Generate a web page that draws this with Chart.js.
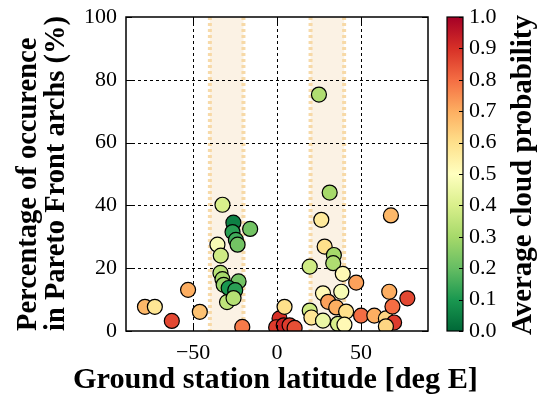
<!DOCTYPE html>
<html><head><meta charset="utf-8">
<script src="https://cdn.jsdelivr.net/npm/chart.js@4/dist/chart.umd.min.js"></script>
<style>html,body{margin:0;padding:0;background:#fff;}</style>
</head><body>
<canvas id="c" width="537" height="397" style="width:537px;height:397px;display:block"></canvas>
<script>
// ---- data ----
const latitudes = [
  -78.7, -72.8, -62.7, -53.0, -46.0,
  -32.5, -26.0, -16.0, -26.5, -24.5, -23.5, -35.5, -33.5, -33.7, -32.5, -22.9, -31.8, -28.8, -24.9, -29.8, -25.9, -20.7,
  1.5, -0.5, 4.0, 7.5, 10.5, 4.5,
  25.0, 31.4, 26.4, 67.9, 28.4, 33.9, 33.5, 19.5, 39.2, 47.2, 66.9, 77.7, 27.4, 38.3, 30.5, 35.3, 41.2, 19.5, 20.5, 27.4, 36.3, 40.2, 50.1, 58.0, 64.9, 68.8, 69.8, 64.9
];
const percentages = [
  7.7, 7.7, 3.2, 13.1, 6.1,
  40.2, 34.5, 32.5, 31.5, 29.0, 27.5, 27.5, 24.0, 18.5, 16.5, 15.8, 14.7, 13.7, 13.0, 9.2, 10.5, 1.3,
  4.0, 1.2, 1.8, 1.8, 1.0, 7.7,
  75.3, 44.1, 35.4, 36.8, 26.9, 24.2, 21.6, 20.5, 18.2, 15.4, 12.5, 10.4, 12.0, 12.5, 9.3, 7.5, 6.2, 6.5, 4.3, 3.3, 2.3, 2.0, 4.9, 4.9, 4.0, 7.8, 2.7, 1.5
];
const cloudProb = [
  0.68, 0.58, 0.86, 0.70, 0.66,
  0.40, 0.05, 0.22, 0.12, 0.15, 0.22, 0.48, 0.38, 0.34, 0.30, 0.22, 0.28, 0.10, 0.12, 0.35, 0.33, 0.78,
  0.90, 0.88, 0.92, 0.88, 0.85, 0.60,
  0.32, 0.30, 0.57, 0.68, 0.60, 0.30, 0.32, 0.38, 0.52, 0.72, 0.70, 0.86, 0.52, 0.48, 0.72, 0.70, 0.60, 0.38, 0.58, 0.45, 0.40, 0.52, 0.80, 0.70, 0.62, 0.80, 0.88, 0.62
];
const xTicks = [-50, 0, 50];
const yTicks = [0, 20, 40, 60, 80, 100];
const cbTicks = [0, 0.1, 0.2, 0.3, 0.4, 0.5, 0.6, 0.7, 0.8, 0.9, 1.0];
const bands = [[-40, -20], [20, 40]];
const xTitle = 'Ground station latitude [deg E]';
const yTitle = ['Percentage of occurence', 'in Pareto Front archs (%)'];
const cbTitle = 'Average cloud probability';

// RdYlGn reversed colour map
const cmapStops = ['#006837','#1a9850','#66bd63','#a6d96a','#d9ef8b','#ffffbf','#fee08b','#fdae61','#f46d43','#d73027','#a50026'];
function hex2rgb(h){return [parseInt(h.slice(1,3),16),parseInt(h.slice(3,5),16),parseInt(h.slice(5,7),16)];}
function cmap(v){
  v = Math.max(0, Math.min(1, v));
  const p = v * (cmapStops.length - 1);
  const i = Math.min(Math.floor(p), cmapStops.length - 2);
  const t = p - i;
  const a = hex2rgb(cmapStops[i]), b = hex2rgb(cmapStops[i+1]);
  const c = a.map((x, k) => Math.round(x + (b[k] - x) * t));
  return `rgb(${c[0]},${c[1]},${c[2]})`;
}

const points = latitudes.map((x, i) => ({x: x, y: percentages[i]}));
const SERIF = "'Liberation Serif', serif";
const TICKFONT = {family: SERIF, size: 22};

function fitFont(ctx, text, target) {
  ctx.font = "bold 20px " + SERIF;
  const w = ctx.measureText(text).width;
  const size = 20 * target / w;
  return "bold " + size.toFixed(2) + "px " + SERIF;
}

const decorPlugin = {
  id: 'decor',
  beforeDraw(chart) {
    const {ctx, chartArea: ca, scales: {x}} = chart;
    ctx.save();
    bands.forEach(([a, b]) => {
      const xa = x.getPixelForValue(a), xb = x.getPixelForValue(b);
      ctx.fillStyle = 'rgba(246,226,196,0.45)';
      ctx.fillRect(xa, ca.top, xb - xa, ca.bottom - ca.top);
      ctx.strokeStyle = 'rgba(246,214,160,0.9)';
      ctx.lineWidth = 4;
      ctx.setLineDash([3, 3]);
      [xa, xb].forEach(px => {
        ctx.beginPath(); ctx.moveTo(px, ca.top); ctx.lineTo(px, ca.bottom); ctx.stroke();
      });
    });
    ctx.restore();
  },
  beforeDatasetsDraw(chart) {
    const {ctx, chartArea: ca, scales: {x, y}} = chart;
    ctx.save();
    ctx.strokeStyle = '#000';
    ctx.lineWidth = 1;
    ctx.setLineDash([3, 3]);
    xTicks.forEach(v => {
      const px = Math.round(x.getPixelForValue(v)) + 0.5;
      ctx.beginPath(); ctx.moveTo(px, ca.top); ctx.lineTo(px, ca.bottom); ctx.stroke();
    });
    yTicks.slice(1, -1).forEach(v => {
      const py = Math.round(y.getPixelForValue(v)) + 0.5;
      ctx.beginPath(); ctx.moveTo(ca.left, py); ctx.lineTo(ca.right, py); ctx.stroke();
    });
    ctx.restore();
  },
  afterDraw(chart) {
    const {ctx, chartArea: ca, scales: {x, y, cb}} = chart;
    ctx.save();
    ctx.setLineDash([]);
    ctx.strokeStyle = '#000';
    // frame
    ctx.lineWidth = 1.5;
    ctx.strokeRect(ca.left, ca.top, ca.right - ca.left, ca.bottom - ca.top);
    // inward tick marks
    ctx.lineWidth = 1;
    const tl = 6;
    xTicks.forEach(v => {
      const px = Math.round(x.getPixelForValue(v)) + 0.5;
      ctx.beginPath(); ctx.moveTo(px, ca.bottom); ctx.lineTo(px, ca.bottom - tl);
      ctx.moveTo(px, ca.top); ctx.lineTo(px, ca.top + tl); ctx.stroke();
    });
    yTicks.forEach(v => {
      const py = Math.round(y.getPixelForValue(v)) + 0.5;
      ctx.beginPath(); ctx.moveTo(ca.left, py); ctx.lineTo(ca.left + tl, py);
      ctx.moveTo(ca.right, py); ctx.lineTo(ca.right - tl, py); ctx.stroke();
    });
    // colorbar
    const bx = ca.right + 19, bw = 16;
    const y0 = cb.getPixelForValue(0), y1 = cb.getPixelForValue(1);
    const g = ctx.createLinearGradient(0, y0, 0, y1);
    cmapStops.forEach((c, i) => g.addColorStop(i / (cmapStops.length - 1), c));
    ctx.fillStyle = g;
    ctx.fillRect(bx, y1, bw, y0 - y1);
    ctx.lineWidth = 1.2;
    ctx.strokeRect(bx, y1, bw, y0 - y1);
    ctx.lineWidth = 1;
    cbTicks.forEach(v => {
      const py = Math.round(cb.getPixelForValue(v)) + 0.5;
      ctx.beginPath(); ctx.moveTo(bx + bw, py); ctx.lineTo(bx + bw - 4, py); ctx.stroke();
    });
    // titles
    ctx.fillStyle = '#000';
    ctx.textBaseline = 'alphabetic';
    // x title
    ctx.font = fitFont(ctx, xTitle, 405);
    ctx.textAlign = 'left';
    ctx.fillText(xTitle, 73, 388);
    // y title (two lines, rotated)
    const yFont = fitFont(ctx, yTitle[1], 315);
    ctx.save();
    ctx.font = yFont;
    ctx.translate(0, ca.bottom);
    ctx.rotate(-Math.PI / 2);
    ctx.textAlign = 'left';
    ctx.fillText(yTitle[0], 0, 36);
    ctx.fillText(yTitle[1], 0, 64);
    ctx.restore();
    // colorbar title
    ctx.save();
    ctx.font = fitFont(ctx, cbTitle, 320);
    ctx.translate(531, 335);
    ctx.rotate(-Math.PI / 2);
    ctx.textAlign = 'left';
    ctx.fillText(cbTitle, 0, 0);
    ctx.restore();
    ctx.restore();
  }
};

new Chart(document.getElementById('c'), {
  type: 'scatter',
  data: {
    datasets: [{
      data: points,
      backgroundColor: cloudProb.map(cmap),
      borderColor: '#000',
      borderWidth: 1.2,
      pointRadius: 7.5,
      pointHoverRadius: 7.5
    }]
  },
  options: {
    responsive: false,
    animation: false,
    devicePixelRatio: 1,
    layout: {padding: {top: 17, left: 0, right: 0, bottom: 0}},
    plugins: {legend: {display: false}, tooltip: {enabled: false}},
    scales: {
      x: {
        type: 'linear', min: -90, max: 90,
        afterBuildTicks: s => { s.ticks = xTicks.map(v => ({value: v})); },
        afterFit: s => { s.height = 66; s.paddingLeft = 0; s.paddingRight = 0; },
        grid: {display: false, drawTicks: false}, border: {display: false},
        ticks: {
          padding: 9, color: '#000', font: TICKFONT,
          callback: v => String(v).replace('-', '\u2212')
        }
      },
      y: {
        type: 'linear', min: 0, max: 100,
        afterBuildTicks: s => { s.ticks = yTicks.map(v => ({value: v})); },
        afterFit: s => { s.width = 126; s.paddingTop = 0; s.paddingBottom = 0; },
        grid: {display: false, drawTicks: false}, border: {display: false},
        ticks: {padding: 9, color: '#000', font: TICKFONT}
      },
      cb: {
        type: 'linear', axis: 'y', position: 'right', min: 0, max: 1,
        afterBuildTicks: s => { s.ticks = cbTicks.map(v => ({value: v})); },
        afterFit: s => { s.width = 109; s.paddingTop = 0; s.paddingBottom = 0; },
        grid: {display: false, drawTicks: false}, border: {display: false},
        ticks: {padding: 41, color: '#000', font: TICKFONT,
                callback: v => Number(v).toFixed(1)}
      }
    }
  },
  plugins: [decorPlugin]
});
</script>
</body></html>
